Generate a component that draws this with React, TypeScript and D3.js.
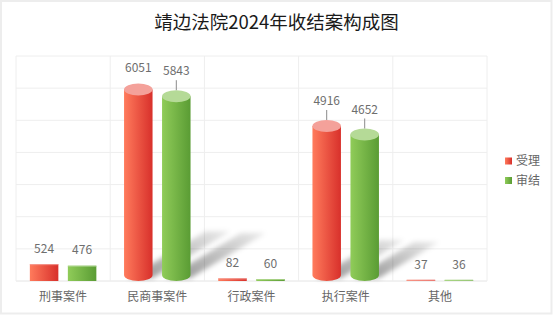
import React from "react";
import * as d3 from "d3";

const title = "靖边法院2024年收结案构成图";
const categories = ["刑事案件", "民商事案件", "行政案件", "执行案件", "其他"];
const seriesNames = ["受理", "审结"];
const accepted = [524, 6051, 82, 4916, 37];
const concluded = [476, 5843, 60, 4652, 36];
const yTicks = [0, 1000, 2000, 3000, 4000, 5000, 6000, 7000];

const W = 553;
const H = 315;
const plot = { left: 16, right: 487, top: 56, bottom: 281 };

const palettes = [
  { light: "#ff7b5c", dark: "#d8302b", cap: "#f4a19a" },
  { light: "#90cc59", dark: "#5a9c34", cap: "#b5da97" },
];

export default function App() {
  const x = d3
    .scaleBand<string>()
    .domain(categories)
    .range([plot.left, plot.right])
    .paddingInner(0)
    .paddingOuter(0);
  const y = d3
    .scaleLinear()
    .domain([0, d3.max(yTicks) as number])
    .range([plot.bottom, plot.top]);

  const series = [accepted, concluded];
  const barW = 28.5;
  const offset = 19;
  const ry = 6;
  const font = "'Noto Sans CJK SC', 'Noto Sans', sans-serif";

  const bars: any[] = [];
  series.forEach((vals, si) => {
    vals.forEach((v, ci) => {
      const cx = (x(categories[ci]) as number) + x.bandwidth() / 2 + (si === 0 ? -offset : offset);
      bars.push({ si, ci, v, cx, x0: cx - barW / 2, x1: cx + barW / 2, yv: y(v), h: plot.bottom - y(v) });
    });
  });

  return (
    <svg width={W} height={H} style={{ position: "absolute", left: 0, top: 0 }} fontFamily={font}>
      <defs>
        {palettes.map((p, i) => (
          <linearGradient key={i} id={`g${i}`} x1="0" x2="1" y1="0" y2="0">
            <stop offset="0%" stopColor={p.light} />
            <stop offset="100%" stopColor={p.dark} />
          </linearGradient>
        ))}
        <linearGradient id="shadowGrad" x1="0" x2="1" y1="1" y2="0">
          <stop offset="0%" stopColor="#000" stopOpacity={0.42} />
          <stop offset="100%" stopColor="#000" stopOpacity={0.08} />
        </linearGradient>
        <filter id="blur" x="-50%" y="-50%" width="200%" height="200%">
          <feGaussianBlur stdDeviation="2.8" />
        </filter>
      </defs>
      <rect x={1} y={1} width={W - 2.5} height={H - 2.5} fill="#fff" stroke="#ededed" strokeWidth={2} />
      <text x={W / 2} y={29} textAnchor="middle" fontSize={18.5} fill="#1a1a1a">
        {title}
      </text>

      {/* grid */}
      {yTicks.map((t) => (
        <line key={t} x1={plot.left} x2={plot.right} y1={y(t)} y2={y(t)} stroke={t === 0 ? "#e4e4e4" : "#eeeeee"} strokeWidth={1} />
      ))}
      {[...categories.map((c) => x(c) as number), plot.right].map((gx, i) => (
        <line key={i} x1={gx} x2={gx} y1={plot.top} y2={plot.bottom} stroke="#eeeeee" strokeWidth={1} />
      ))}

      {/* shadows */}
      {bars
        .filter((b) => b.h > 30)
        .map((b, i) => {
          const dx = b.h * 0.4;
          const dy = b.h * 0.24;
          const base = plot.bottom - 3;
          const pts = [
            [b.x0 + 4, base],
            [b.x1, base],
            [b.x1 + dx, base - dy],
            [b.x0 + 4 + dx, base - dy],
          ];
          return (
            <polygon key={i} points={pts.map((p) => p.join(",")).join(" ")} fill="url(#shadowGrad)" filter="url(#blur)" />
          );
        })}

      {/* bars */}
      {bars.map((b, i) => {
        const p = palettes[b.si];
        if (b.h > 30) {
          const capY = b.yv + 3;
          const botY = plot.bottom - ry;
          const d = `M${b.x0},${capY} L${b.x0},${botY} A${barW / 2},${ry} 0 0 0 ${b.x1},${botY} L${b.x1},${capY} Z`;
          return (
            <g key={i}>
              <path d={d} fill={`url(#g${b.si})`} />
              <ellipse cx={b.cx} cy={capY} rx={barW / 2} ry={ry} fill={p.cap} />
            </g>
          );
        }
        return (
          <g key={i}>
            <rect x={b.x0} y={b.yv} width={barW} height={b.h} fill={`url(#g${b.si})`} />
            <rect x={b.x0} y={b.yv} width={barW} height={Math.min(1, b.h)} fill={p.cap} opacity={0.8} />
          </g>
        );
      })}

      {/* labels */}
      {bars.map((b, i) => {
        const tall = b.h > 30;
        const want = tall ? b.yv - 22 : b.yv - 15.5;
        const minY = plot.top + 12;
        const ly = Math.max(want, minY);
        const clamped = want < minY;
        const capTop = b.yv + 3 - ry;
        return (
          <g key={i}>
            {tall && !clamped && (
              <line x1={b.cx} x2={b.cx} y1={ly + 9} y2={capTop} stroke="#8a8a8a" strokeWidth={1} />
            )}
            <text x={b.cx} y={ly} dy="0.35em" textAnchor="middle" fontSize={12} fill="#6e6e6e">
              {b.v}
            </text>
          </g>
        );
      })}

      {/* category axis labels */}
      {categories.map((c) => (
        <text key={c} x={(x(c) as number) + x.bandwidth() / 2} y={297} dy="0.35em" textAnchor="middle" fontSize={12} fill="#666">
          {c}
        </text>
      ))}

      {/* legend */}
      {seriesNames.map((n, i) => (
        <g key={n} transform={`translate(505, ${161 + i * 19.5})`}>
          <rect x={0} y={-3.5} width={7} height={7} fill={`url(#g${i})`} />
          <text x={11} y={0} dy="0.35em" fontSize={12} fill="#666">
            {n}
          </text>
        </g>
      ))}
    </svg>
  );
}
